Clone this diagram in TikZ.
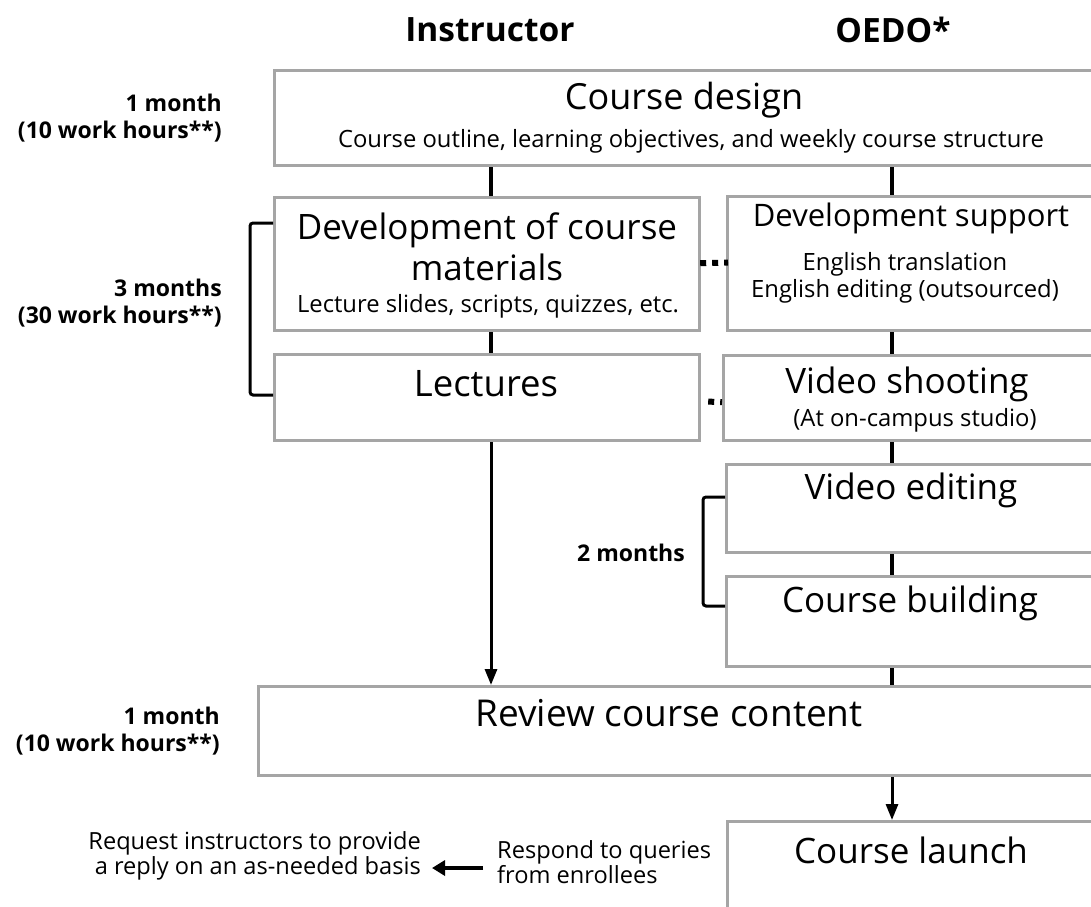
\documentclass[tikz,border=0pt]{standalone}
\usepackage{fontspec}
\setmainfont{Open Sans}
\usetikzlibrary{arrows.meta,calc}
\definecolor{boxgray}{RGB}{165,165,165}
\begin{document}
\begin{tikzpicture}[x=1pt,y=-1pt,
  box/.style={draw=boxgray,line width=3.2pt,inner sep=0pt,anchor=north west,fill=white},
  conn/.style={line width=4.5pt,black},
  dots/.style={line width=6pt,black,dash pattern=on 6pt off 6pt},
  bracket/.style={line width=3pt,black,rounded corners=3pt},
  arr/.style={line width=3pt,black,-{Triangle[length=16pt,width=12pt]}},
  title/.style={inner sep=0pt,font=\fontsize{35}{41}\selectfont,align=center},
  sub/.style={inner sep=0pt,font=\fontsize{23.8}{27}\selectfont,align=center},
  head/.style={inner sep=0pt,font=\bfseries\fontsize{33.5}{38}\selectfont},
  lab/.style={inner sep=0pt,font=\bfseries\fontsize{23}{27}\selectfont,align=right,anchor=east},
  note/.style={inner sep=0pt,font=\fontsize{23.6}{25}\selectfont}]
\useasboundingbox (0,0) rectangle (1091,906);
\clip (0,0) rectangle (1091,906);
\coordinate (colI) at (491,0);
\coordinate (colO) at (892,0);

% headers
\node[head] (hI) at (490,30) {Instructor};
\node[head] (hO) at (893,30) {OEDO*};

% boxes
\node[box,minimum width=823pt,minimum height=95pt] (design) at (273,69) {};
\node[box,minimum width=425pt,minimum height=133pt] (devmat) at (273,196) {};
\node[box,minimum width=370pt,minimum height=134pt] (devsup) at (726,195) {};
\node[box,minimum width=425pt,minimum height=86pt] (lect) at (273,353) {};
\node[box,minimum width=374pt,minimum height=85pt] (shoot) at (722,354) {};
\node[box,minimum width=371pt,minimum height=88pt] (edit) at (725,463) {};
\node[box,minimum width=371pt,minimum height=90pt] (build) at (725,575) {};
\node[box,minimum width=839pt,minimum height=89pt] (review) at (257,685) {};
\node[box,minimum width=371pt,minimum height=100pt] (launch) at (726,820) {};

% box texts
\node[title,font=\fontsize{36}{41}\selectfont] (tdesign) at (684,100) {Course design};
\node[sub] (sdesign) at (691,141) {Course outline, learning objectives, and weekly course structure};
\node[title] (tdevmat) at (487,247) {Development of course\\materials};
\node[sub] (sdevmat) at (488,306) {Lecture slides, scripts, quizzes, etc.};
\node[title,font=\fontsize{31}{37}\selectfont] (tdevsup) at (911,218) {Development support};
\node[sub] (sdevsup) at (905,278) {English translation\\English editing (outsourced)};
\node[title,font=\fontsize{36.5}{41}\selectfont] (tlect) at (486,384) {Lectures};
\node[title] (tshoot) at (907,384) {Video shooting};
\node[sub] (sshoot) at (915,420) {(At on-campus studio)};
\node[title] (tedit) at (911,490) {Video editing};
\node[title] (tbuild) at (910,603) {Course building};
\node[title,font=\fontsize{37}{41}\selectfont] (treview) at (669,713) {Review course content};
\node[title] (tlaunch) at (911,850) {Course launch};

% side labels
\node[lab] (l1) at (222,118) {1 month\\(10 work hours**)};
\node[lab] (l3) at (222,303) {3 months\\(30 work hours**)};
\node[lab] (l2) at (685,553) {2 months};
\node[lab] (l4) at (220,731) {1 month\\(10 work hours**)};

% bottom notes
\node[note,anchor=west,align=left] (respond) at (497,862) {Respond to queries\\from enrollees};
\node[note,anchor=east,align=right] (request) at (421,856) {Request instructors to provide\\a reply on an as-needed basis};

% connectors
\draw[conn] (design.south -| colI) -- (devmat.north -| colI);
\draw[conn] (design.south -| colO) -- (devsup.north -| colO);
\draw[conn] (devmat.south -| colI) -- (lect.north -| colI);
\draw[conn] (devsup.south -| colO) -- (shoot.north -| colO);
\draw[conn] (shoot.south -| colO) -- (edit.north -| colO);
\draw[conn] (edit.south -| colO) -- (build.north -| colO);
\draw[conn] (build.south -| colO) -- (review.north -| colO);
\draw[arr] (lect.south -| colI) -- (review.north -| colI);
\draw[arr] (review.south -| colO) -- (launch.north -| colO);
\draw[dots] ($(devmat.east)+(-1,-1)$) -- ($(devsup.west)+(2,-1)$);
\draw[dots] ($(lect.east)+(7,4)$) -- ($(shoot.west)+(0,4)$);
\draw[line width=4.5pt,-{Triangle[length=13pt,width=15pt]}] ($(respond.west |- 0,868)+(-14,0)$) -- ($(request.east |- 0,868)+(11,0)$);

% brackets
\draw[bracket] ($(devmat.north west)+(0,27)$) -- ++(-23,0) |- ($(lect.north west)+(0,42)$);
\draw[bracket] ($(edit.north west)+(0,34)$) -- ++(-22,0) |- ($(build.north west)+(0,31)$);
\end{tikzpicture}
\end{document}
